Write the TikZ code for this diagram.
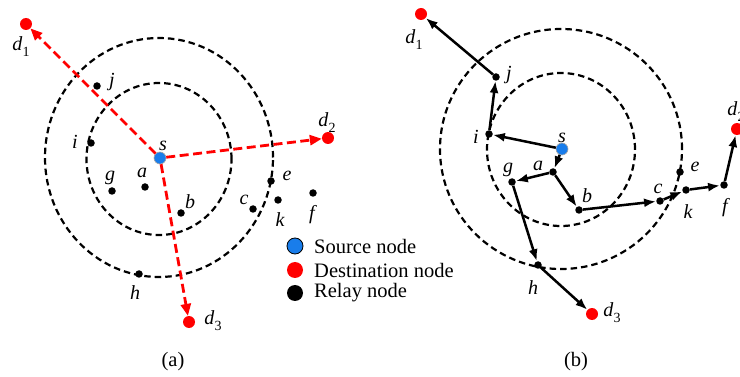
\documentclass[tikz,border=0pt]{standalone}
\usepackage{fontspec}
\setmainfont{Liberation Serif}
\usetikzlibrary{arrows.meta}
\definecolor{srcblue}{RGB}{25,125,235}
\newcommand{\dsub}[1]{\textit{d}\kern0.3pt\raisebox{-0.3em}{\fontsize{14}{14}\selectfont\upshape #1}}
\begin{document}
\begin{tikzpicture}[x=1pt,y=-1pt,
  relay/.style={circle,fill=black,inner sep=0pt,minimum size=7.5pt},
  src/.style={circle,fill=srcblue,draw=black!35,line width=0.6pt,inner sep=0pt,minimum size=12pt},
  dst/.style={circle,fill=red,inner sep=0pt,minimum size=12pt},
  lbl/.style={font=\fontsize{20}{20}\selectfont\itshape,inner sep=0pt},
  txt/.style={font=\fontsize{20.5}{22}\selectfont,inner sep=0pt},
  rangeline/.style={dash pattern=on 6.5pt off 4pt,line width=2.2pt},
  redarrow/.style={red,dash pattern=on 9pt off 4.5pt,line width=2.8pt,-{Triangle[length=12pt,width=10pt]}},
  hop/.style={line width=2.5pt,-{Latex[length=12pt,width=9pt]}},
  legdot/.style={circle,inner sep=0pt,minimum size=16pt}]
\useasboundingbox (0,0) rectangle (740,377);

% ---------- (a) direct transmission ----------
\draw[rangeline] (159,159) ellipse [x radius=72.5pt,y radius=76pt];
\draw[rangeline] (159,157.5) ellipse [x radius=114pt,y radius=119.5pt];

\node[src]   (sA)  at (160,158) {};
\node[dst]   (d1A) at (26,24) {};
\node[dst]   (d2A) at (328,138) {};
\node[dst]   (d3A) at (189,322) {};
\node[relay] (jA)  at (97,86) {};
\node[relay] (iA)  at (91,143) {};
\node[relay] (gA)  at (112,191) {};
\node[relay] (aA)  at (145,187) {};
\node[relay] (bA)  at (181,213) {};
\node[relay] (cA)  at (253,209) {};
\node[relay] (eA)  at (271,181) {};
\node[relay] (kA)  at (278,200) {};
\node[relay] (fA)  at (313,193) {};
\node[relay] (hA)  at (139,274) {};

\draw[redarrow] (sA) -- (d1A);
\draw[redarrow] (sA) -- (d2A);
\draw[redarrow] (sA) -- (d3A);

\node[lbl] (lsA)  at (163,146) {s};
\node[lbl] (ld1A) at (21,47) {\dsub{1}};
\node[lbl] (ld2A) at (327,123) {\dsub{2}};
\node[lbl] (ld3A) at (213,321) {\dsub{3}};
\node[lbl] (ljA)  at (112,82) {j};
\node[lbl] (liA)  at (75,142) {i};
\node[lbl] (lgA)  at (110,178) {g};
\node[lbl] (laA)  at (142,173) {a};
\node[lbl] (lbA)  at (190,202) {b};
\node[lbl] (lcA)  at (244,200) {c};
\node[lbl] (leA)  at (287,176) {e};
\node[lbl] (lkA)  at (280,220) {k};
\node[lbl] (lfA)  at (312,215) {f};
\node[lbl] (lhA)  at (135,293) {h};

% legend
\node[legdot,fill=srcblue,draw=black,line width=0.8pt] (legS) at (295,246) {};
\node[legdot,fill=red] (legD) at (295,270) {};
\node[legdot,fill=black] (legR) at (295,293) {};
\node[txt,anchor=west] (legSt) at (314,246) {Source node};
\node[txt,anchor=west] (legDt) at (314,270) {Destination node};
\node[txt,anchor=west] (legRt) at (314,293) {Relay node};

\node[txt] (capA) at (173,362) {(a)};

% ---------- (b) multi-hop relaying ----------
\draw[rangeline] (561,149.5) ellipse [x radius=74pt,y radius=76.5pt];
\draw[rangeline] (561,149) ellipse [x radius=121pt,y radius=120pt];

\node[src]   (sB)  at (562,149) {};
\node[dst]   (d1B) at (421,14) {};
\node[dst]   (d2B) at (737,129) {};
\node[dst]   (d3B) at (592,314) {};
\node[relay] (jB)  at (496,77) {};
\node[relay] (iB)  at (489,134) {};
\node[relay] (gB)  at (512,182) {};
\node[relay] (aB)  at (553,172) {};
\node[relay] (bB)  at (579,210) {};
\node[relay] (cB)  at (660,201) {};
\node[relay] (eB)  at (680,172) {};
\node[relay] (kB)  at (686,190) {};
\node[relay] (fB)  at (724,185) {};
\node[relay] (hB)  at (538,265) {};

\draw[hop] (sB) -- (iB);
\draw[hop] (iB) -- (jB);
\draw[hop] (jB) -- (d1B);
\draw[hop] (sB) -- (aB);
\draw[hop] (aB) -- (gB);
\draw[hop] (gB) -- (hB);
\draw[hop] (hB) -- (d3B);
\draw[hop] (aB) -- (bB);
\draw[hop] (bB) -- (cB);
\draw[hop] (cB) -- (kB);
\draw[hop] (kB) -- (fB);
\draw[hop] (fB) -- (d2B);

\node[lbl] (lsB)  at (562,138) {s};
\node[lbl] (ld1B) at (414,40) {\dsub{1}};
\node[lbl] (ld2B) at (736,112) {\dsub{2}};
\node[lbl] (ld3B) at (612,313) {\dsub{3}};
\node[lbl] (ljB)  at (509,75) {j};
\node[lbl] (liB)  at (476,137) {i};
\node[lbl] (lgB)  at (508,170) {g};
\node[lbl] (laB)  at (538,166) {a};
\node[lbl] (lbB)  at (587,196) {b};
\node[lbl] (lcB)  at (658,189) {c};
\node[lbl] (leB)  at (695,167) {e};
\node[lbl] (lkB)  at (688,212) {k};
\node[lbl] (lfB)  at (725,208) {f};
\node[lbl] (lhB)  at (533,288) {h};

\node[txt] (capB) at (576,362) {(b)};
\end{tikzpicture}
\end{document}
